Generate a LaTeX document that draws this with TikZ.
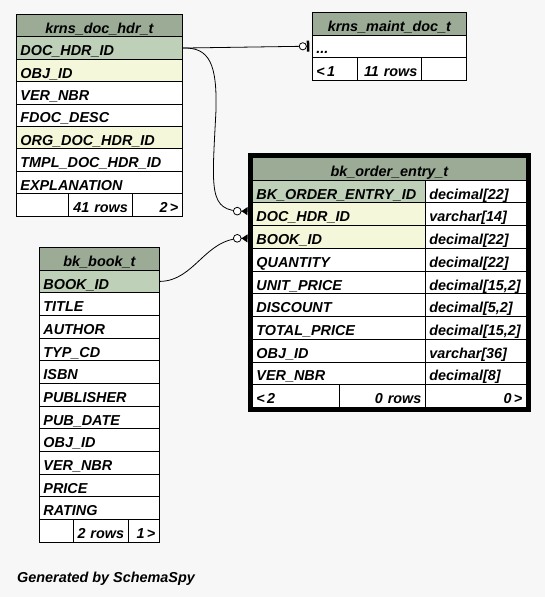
\documentclass[tikz,border=0pt]{standalone}
\usepackage{fontspec}
\setmainfont{Liberation Sans}
\usetikzlibrary{arrows.meta,fit}
\definecolor{ssbg}{HTML}{F7F7F7}
\definecolor{sshead}{HTML}{9BAB96}
\definecolor{sspk}{HTML}{BED1B8}
\definecolor{ssidx}{HTML}{F4F7DA}
\tikzset{
  cell/.style={draw=black,line width=.8pt,fill=white,anchor=north west,inner xsep=4pt,inner ysep=0pt,text height=18.9pt,text depth=3.6pt,font=\fontsize{14.4}{16}\selectfont\bfseries\itshape,align=left},
  head/.style={cell,fill=sshead,align=center},
  cellr/.style={cell,align=right},
  thickbox/.style={draw=black,line width=4pt,inner sep=2.5pt},
  fk/.style={draw=black,line width=.8pt},
  zeroone/.style={-{Circle[length=8pt,fill=white,line width=.8pt] Bar[width=11pt,line width=2.5pt]},shorten >=2.7pt},
  zeromany/.style={-{Circle[length=8.5pt,fill=white,line width=.8pt] Triangle[reversed,length=6pt,width=8pt]},shorten >=4.5pt},
  gen/.style={font=\fontsize{14.4}{16}\selectfont\bfseries\itshape,anchor=base west,inner sep=0pt},
}

\begin{document}
\begin{tikzpicture}[x=1pt,y=-1pt]
  \fill[ssbg] (0,0) rectangle (545,597);
  \useasboundingbox (0,0) rectangle (545,597);

  % ---- krns_doc_hdr_t ----
  \node[head,text width=158pt,minimum height=22.4pt] (hdr0) at (16,14) {krns\_doc\_hdr\_t};
  \foreach \i/\nm/\fc in {1/DOC\_HDR\_ID/sspk,2/OBJ\_ID/ssidx,3/VER\_NBR/white,4/FDOC\_DESC/white,
                          5/ORG\_DOC\_HDR\_ID/ssidx,6/TMPL\_DOC\_HDR\_ID/white,7/EXPLANATION/white}{
    \node[cell,fill=\fc,text width=158pt,minimum height=22.4pt] (hdr\i) at (16,{14+22.4*\i}) {\nm};
  }
  \node[cell,text width=44pt,minimum height=22.4pt] (hdrf1) at (16,193.2) {};
  \node[cellr,text width=55.5pt,minimum height=22.4pt] (hdrf2) at (68,193.2) {41 rows};
  \node[cellr,text width=42.5pt,minimum height=22.4pt] (hdrf3) at (131.5,193.2) {2\,>};

  % ---- krns_maint_doc_t ----
  \node[head,text width=146pt,minimum height=22.5pt] (mnt0) at (312,12) {krns\_maint\_doc\_t};
  \node[cell,text width=146pt,minimum height=22.5pt] (mnt1) at (312,34.5) {...};
  \node[cell,text width=37pt,minimum height=22.5pt] (mntf1) at (312,57) {<\,1};
  \node[cellr,text width=56pt,minimum height=22.5pt] (mntf2) at (357,57) {11 rows};
  \node[cell,text width=37pt,minimum height=22.5pt] (mntf3) at (421,57) {};

  % ---- bk_order_entry_t ----
  \node[head,text width=266pt,minimum height=22.73pt] (oe0) at (252,157) {bk\_order\_entry\_t};
  \foreach \i/\nm/\ty/\fc in {1/BK\_ORDER\_ENTRY\_ID/{decimal[22]}/sspk,2/DOC\_HDR\_ID/{varchar[14]}/ssidx,
                              3/BOOK\_ID/{decimal[22]}/ssidx,4/QUANTITY/{decimal[22]}/white,
                              5/UNIT\_PRICE/{decimal[15,2]}/white,6/DISCOUNT/{decimal[5,2]}/white,
                              7/TOTAL\_PRICE/{decimal[15,2]}/white,8/OBJ\_ID/{varchar[36]}/white,
                              9/VER\_NBR/{decimal[8]}/white}{
    \node[cell,fill=\fc,text width=165pt,minimum height=22.73pt] (oe\i) at (252,{157+22.73*\i}) {\nm};
    \node[cell,text width=93pt,minimum height=22.73pt] (oet\i) at (425,{157+22.73*\i}) {\ty};
  }
  \node[cell,text width=79pt,minimum height=22.73pt] (oef1) at (252,384.3) {<\,2};
  \node[cellr,text width=78pt,minimum height=22.73pt] (oef2) at (339,384.3) {0 rows};
  \node[cellr,text width=93pt,minimum height=22.73pt] (oef3) at (425,384.3) {0\,>};
  \node[thickbox,fit=(oe0)(oef3)] (oebox) {};

  % ---- bk_book_t ----
  \node[head,text width=112pt,minimum height=22.67pt] (bk0) at (39,247) {bk\_book\_t};
  \foreach \i/\nm/\fc in {1/BOOK\_ID/sspk,2/TITLE/white,3/AUTHOR/white,4/TYP\_CD/white,5/ISBN/white,
                          6/PUBLISHER/white,7/PUB\_DATE/white,8/OBJ\_ID/white,9/VER\_NBR/white,
                          10/PRICE/white,11/RATING/white}{
    \node[cell,fill=\fc,text width=112pt,minimum height=22.67pt] (bk\i) at (39,{247+22.67*\i}) {\nm};
  }
  \node[cell,text width=25.7pt,minimum height=22.67pt] (bkf1) at (39,519.1) {};
  \node[cellr,text width=47pt,minimum height=22.67pt] (bkf2) at (72.7,519.1) {2 rows};
  \node[cellr,text width=23.3pt,minimum height=22.67pt] (bkf3) at (127.7,519.1) {1\,>};

  % ---- relationships ----
  \draw[fk,zeroone] (hdr1.east) -- (mnt1.west);
  \draw[fk,zeromany] (hdr1.east) .. controls (210,47) and (217,65) .. (216,110)
    .. controls (212,190) and (208,211) .. ([yshift=3pt]oe2.west);
  \draw[fk,zeromany] (bk1.east) .. controls (195,281) and (205,238) .. ([yshift=-1.5pt]oe3.west);

  \node[gen] (genby) at (17,582.5) {Generated by SchemaSpy};
\end{tikzpicture}
\end{document}
